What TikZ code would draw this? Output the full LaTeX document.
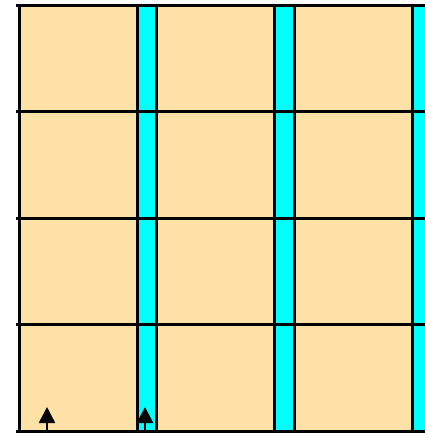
\documentclass[tikz,border=0pt]{standalone}
\usetikzlibrary{arrows.meta}
\definecolor{tile}{HTML}{FDE1A6}
\definecolor{gap}{HTML}{00FFFF}
\tikzset{
  tilefill/.style={fill=tile},
  gapstrip/.style={fill=gap},
  gridline/.style={line width=3pt, black},
  pointer/.style={-{Triangle[length=16pt,width=16pt]}, line width=2.5pt, black},
}

\begin{document}
\begin{tikzpicture}[x=1pt,y=-1pt]
  \useasboundingbox (0,0) rectangle (425,434);
  \clip (0,0) rectangle (425,434);
  % tiles and gaps
  \fill[tilefill] (19,5) rectangle (432,431);
  \foreach \l/\r in {137/156, 274/294, 412/440} {
    \fill[gapstrip] (\l,5) rectangle (\r,431);
    \draw[gridline] (\l,5) -- (\l,431);
    \draw[gridline] (\r,5) -- (\r,431);
  }
  \draw[gridline] (19,5) -- (19,431);
  \foreach \y in {5,111.5,218,324.5,431}
    \draw[gridline] (16,\y) -- (432,\y);
  % arrows
  \coordinate (foot1) at (47,431);
  \coordinate (head1) at (47,407);
  \coordinate (foot2) at (145,431);
  \coordinate (head2) at (145,407);
  \draw[pointer] (foot1) -- (head1);
  \draw[pointer] (foot2) -- (head2);
\end{tikzpicture}
\end{document}
